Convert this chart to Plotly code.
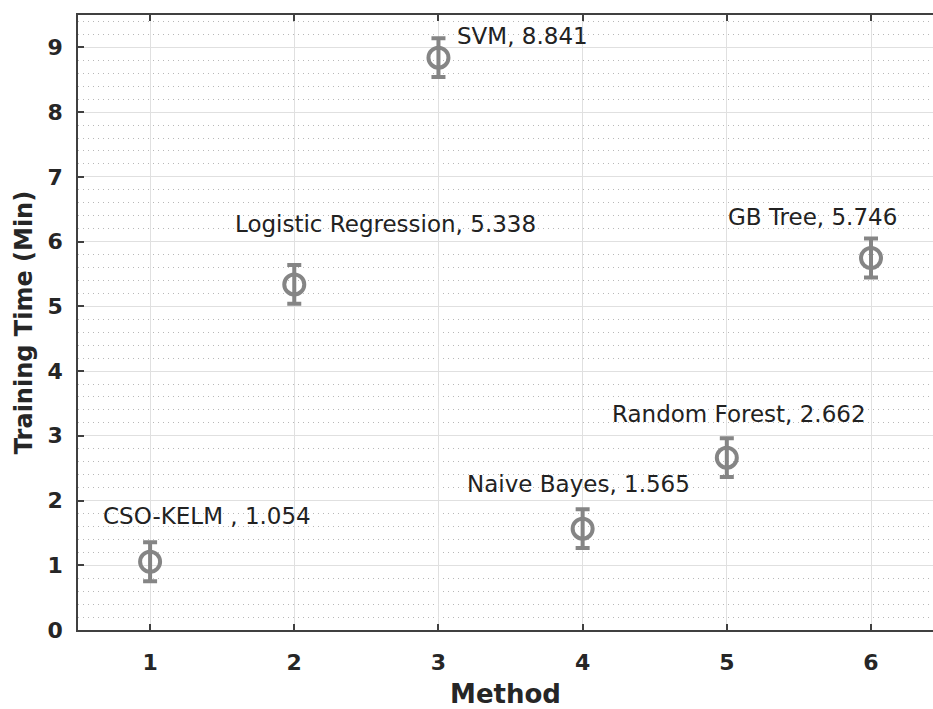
import plotly.graph_objects as go

# Training time per method (minutes)
methods = [1, 2, 3, 4, 5, 6]
method_names = ["CSO-KELM ", "Logistic Regression", "SVM", "Naive Bayes", "Random Forest", "GB Tree"]
train_time = [1.054, 5.338, 8.841, 1.565, 2.662, 5.746]
time_err = [0.3, 0.3, 0.3, 0.3, 0.3, 0.3]

# Text anchors (data coordinates, left-aligned)
label_x = [0.659, 1.576, 3.118, 3.186, 4.193, 4.997]
label_y = [1.757, 6.27, 9.17, 2.26, 3.33, 6.38]

MARK = "#858585"
AXIS = "#404040"
TXT = "#262626"

fig = go.Figure()
fig.add_trace(go.Scatter(
    x=methods, y=train_time, mode="markers",
    marker=dict(symbol="circle-open", size=20, color=MARK, line=dict(width=4)),
    error_y=dict(type="data", array=time_err, color=MARK, thickness=4, width=7),
    showlegend=False, hoverinfo="skip",
))

for name, val, lx, ly in zip(method_names, train_time, label_x, label_y):
    fig.add_annotation(
        x=lx, y=ly, xref="x", yref="y", text=f"{name}, {val}",
        showarrow=False, xanchor="left", yanchor="middle",
        font=dict(family="DejaVu Sans", size=23, color="#222222"),
    )

fig.update_layout(
    width=933, height=709,
    margin=dict(l=78, r=0, t=15, b=79),
    paper_bgcolor="white", plot_bgcolor="white",
    font=dict(family="DejaVu Sans", color=TXT),
    xaxis=dict(
        range=[0.5, 6.43], tickmode="linear", tick0=1, dtick=1,
        showline=True, linecolor=AXIS, linewidth=1.5, mirror="allticks",
        ticks="inside", ticklen=6, tickwidth=1.5, tickcolor=AXIS,
        showgrid=True, gridcolor="#e0e0e0", gridwidth=1, zeroline=False,
        tickfont=dict(family="DejaVu Sans", size=22, color=TXT, weight="bold"),
        ticklabelstandoff=12,
        title=dict(text="<b>Method</b>", font=dict(family="DejaVu Sans", size=26, color=TXT), standoff=13),
    ),
    yaxis=dict(
        range=[0, 9.5], tickmode="linear", tick0=0, dtick=1,
        showline=True, linecolor=AXIS, linewidth=1.5, mirror=False,
        ticks="inside", ticklen=6, tickwidth=1.5, tickcolor=AXIS,
        showgrid=True, gridcolor="#e0e0e0", gridwidth=1, zeroline=False,
        minor=dict(dtick=0.2, showgrid=True, gridcolor="#b8b8b8", griddash="1px,4px", gridwidth=1, ticks=""),
        tickfont=dict(family="DejaVu Sans", size=22, color=TXT, weight="bold"),
        ticklabelstandoff=9,
        title=dict(text="<b>Training Time (Min)</b>", font=dict(family="DejaVu Sans", size=24, color=TXT), standoff=8),
    ),
)

fig.write_html("out.html", config={"displayModeBar": False})
